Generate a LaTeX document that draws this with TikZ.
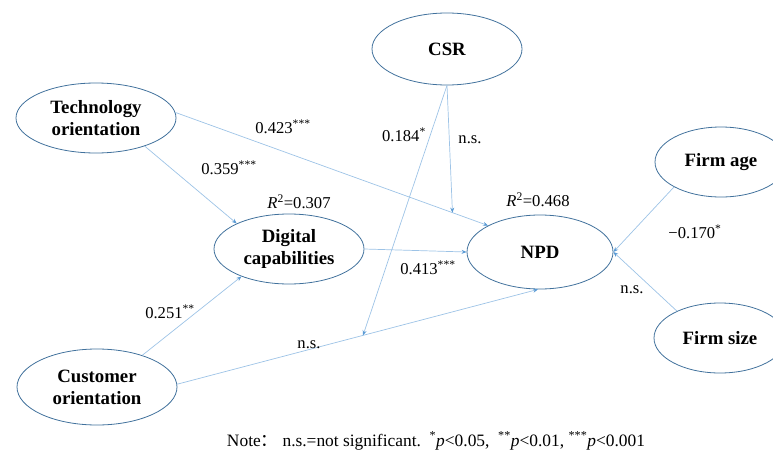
\documentclass[tikz,border=0pt]{standalone}
\usepackage{fontspec}
\setmainfont{Liberation Serif}
\newfontfamily\cjk{Noto Sans CJK SC}
\usetikzlibrary{shapes.geometric,arrows.meta,calc}
\definecolor{rimblue}{RGB}{65,113,156}
\definecolor{pathblue}{RGB}{157,195,230}
\definecolor{tipblue}{RGB}{91,155,213}
\begin{document}
\begin{tikzpicture}[x=1pt,y=-1pt,
  construct/.style={ellipse, draw=rimblue, line width=0.8pt, inner sep=0pt,
    align=center, font=\fontsize{18.8}{22}\selectfont\bfseries},
  link/.style={draw=pathblue, line width=0.7pt,
    -{Stealth[length=5pt,width=4pt,color=tipblue]}},
  coef/.style={font=\fontsize{16.6}{19}\selectfont, inner sep=1pt}]

\useasboundingbox (0,0) rectangle (773,452);
\clip (0,0) rectangle (773,452);

% constructs
\node[construct, minimum width=160pt, minimum height=70pt] (tech) at (96,118) {Technology\\orientation};
\node[construct, minimum width=150pt, minimum height=72pt] (csr) at (447,49) {CSR};
\node[construct, minimum width=150pt, minimum height=70pt] (dig) at (289,249) {Digital\\capabilities};
\node[construct, minimum width=146pt, minimum height=74pt] (npd) at (540,252) {NPD};
\node[construct, minimum width=132pt, minimum height=70pt] (firmage) at (721,162) {Firm age};
\node[construct, minimum width=132pt, minimum height=70pt] (firmsize) at (720,338) {Firm size};
\node[construct, minimum width=160pt, minimum height=76pt] (cust) at (97,387) {Customer\\orientation};

% direct paths
\draw[link] (tech.-30) -- (dig.154);
\draw[link] (tech.4) -- (npd.153);
\draw[link] (cust.2) -- (npd.-93);
\draw[link] (dig.east) -- (npd.west);
\draw[link] (cust.35) -- (dig.210);
\draw[link] (firmage.208) -- (npd.east);
\draw[link] (firmsize.148) -- (npd.east);

% moderation by CSR
\coordinate (m1) at ($(tech.4)!0.886!(npd.153)$);
\coordinate (m2) at ($(cust.2)!0.515!(npd.-93)$);
\draw[link] (csr.south) -- (m1);
\draw[link] (csr.south) -- (m2);

% coefficients
\node[coef] (c1) at (283,127) {0.423\textsuperscript{***}};
\node[coef] (c2) at (229,168) {0.359\textsuperscript{***}};
\node[coef] (r1) at (299,202) {\textit{R}\textsuperscript{2}=0.307};
\node[coef] (c3) at (404,135) {0.184\textsuperscript{*}};
\node[coef] (c4) at (470,140) {n.s.};
\node[coef] (r2) at (538,200) {\textit{R}\textsuperscript{2}=0.468};
\node[coef] (c5) at (428,268) {0.413\textsuperscript{***}};
\node[coef] (c6) at (695,232) {−0.170\textsuperscript{*}};
\node[coef] (c7) at (632,290) {n.s.};
\node[coef] (c8) at (170,312) {0.251\textsuperscript{**}};
\node[coef] (c9) at (309,345) {n.s.};

% footnote
\node[coef, font=\fontsize{17.4}{20}\selectfont] (note) at (436,441) {Note{\cjk ：}\ n.s.=not significant.\ \ \textsuperscript{*}\textit{p}<0.05,\ \ \textsuperscript{**}\textit{p}<0.01,\ \textsuperscript{***}\textit{p}<0.001};
\end{tikzpicture}
\end{document}
